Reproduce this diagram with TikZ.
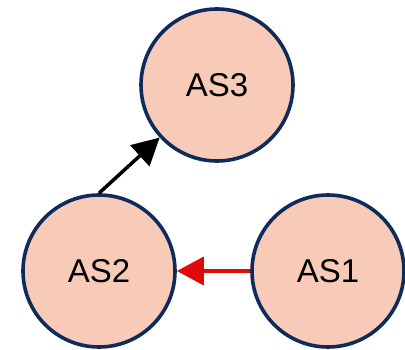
\documentclass[tikz,border=0pt]{standalone}
\usepackage{fontspec}
\setmainfont{Liberation Sans}
\usetikzlibrary{arrows.meta}
\definecolor{asfill}{HTML}{F8CBB8}
\definecolor{asborder}{HTML}{0F2B5B}
\definecolor{arrred}{HTML}{E00A0A}
\begin{document}
\begin{tikzpicture}[x=1pt,y=-1pt,
  asnode/.style={circle, draw=asborder, fill=asfill, line width=3.6pt, minimum size=152pt, inner sep=0pt, font=\fontsize{33}{38}\selectfont},
  conn/.style={line width=3.5pt, -{Triangle[length=27pt,width=28pt]}}]
\useasboundingbox (0,0) rectangle (405,350);
\node[asnode] (AS3) at (217,85) {AS3};
\node[asnode] (AS2) at (99,271) {AS2};
\node[asnode] (AS1) at (328,271) {AS1};
\draw[conn, black] (AS2.north) -- (AS3);
\draw[conn, arrred] (AS1) -- (AS2);
\end{tikzpicture}
\end{document}
